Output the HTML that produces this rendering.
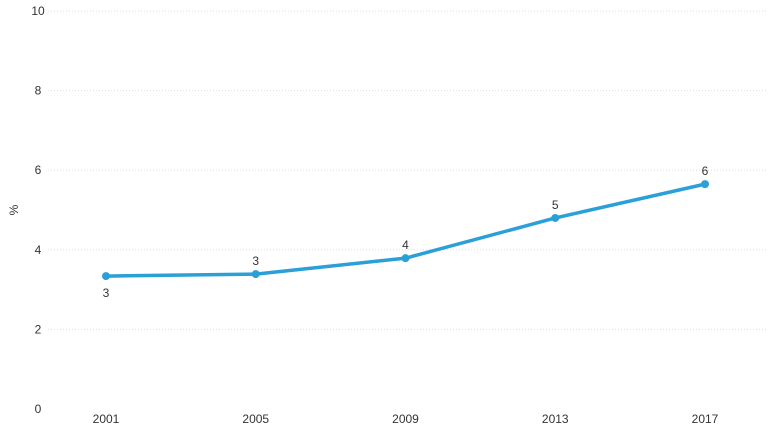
<!DOCTYPE html>
<html><head><meta charset="utf-8"><style>
body{margin:0;background:#fff;}
svg{display:block;font-family:"Liberation Sans","DejaVu Sans",sans-serif;}
</style></head><body>
<svg id="chart" width="768" height="438" viewBox="0 0 768 438"></svg>
<script>
const categories=["2001","2005","2009","2013","2017"];
const values=[3.34,3.39,3.79,4.8,5.65];
const labels=["3","3","4","5","6"];
const yTicks=[0,2,4,6,8,10];
const svg=document.getElementById('chart');
const NS='http://www.w3.org/2000/svg';
const x0=106,x1=705,y0=409,y1=11;
function xs(i){return x0+(x1-x0)*i/(categories.length-1);}
function ys(v){return y0-(y0-y1)*v/10;}
function mk(t,a){const e=document.createElementNS(NS,t);for(const k in a)e.setAttribute(k,a[k]);svg.appendChild(e);return e;}
yTicks.forEach(t=>{
  if(t>0){const g=mk('line',{x1:48,x2:768,y1:ys(t),y2:ys(t),stroke:'#ddd','stroke-dasharray':'1,2'});
  
  }
  const l=mk('text',{x:38,y:ys(t)+4,'text-anchor':'middle','font-size':12,fill:'#333'});
  
  
  l.textContent=t;
});
const yt=mk('text',{x:18,y:210,'text-anchor':'middle','font-size':12,fill:'#333',transform:'rotate(-90 18 210)'});


yt.textContent='%';
categories.forEach((c,i)=>{
  const t=mk('text',{x:xs(i),y:423,'text-anchor':'middle','font-size':12,fill:'#333'});
  
  
  t.textContent=c;
});
const line=mk('polyline',{points:values.map((v,i)=>xs(i)+','+ys(v)).join(' '),fill:'none',stroke:'#2a9fd8','stroke-width':3.5,'stroke-linejoin':'round'});


values.forEach((v,i)=>{
  const p=mk('circle',{cx:xs(i),cy:ys(v),r:4,fill:'#2a9fd8'});
  
  
  const below=i===0;
  const t=mk('text',{x:xs(i),y:below?ys(v)+21:ys(v)-9,'text-anchor':'middle','font-size':12,fill:'#333'});
  
  
  t.textContent=labels[i];
});
</script>
</body></html>
